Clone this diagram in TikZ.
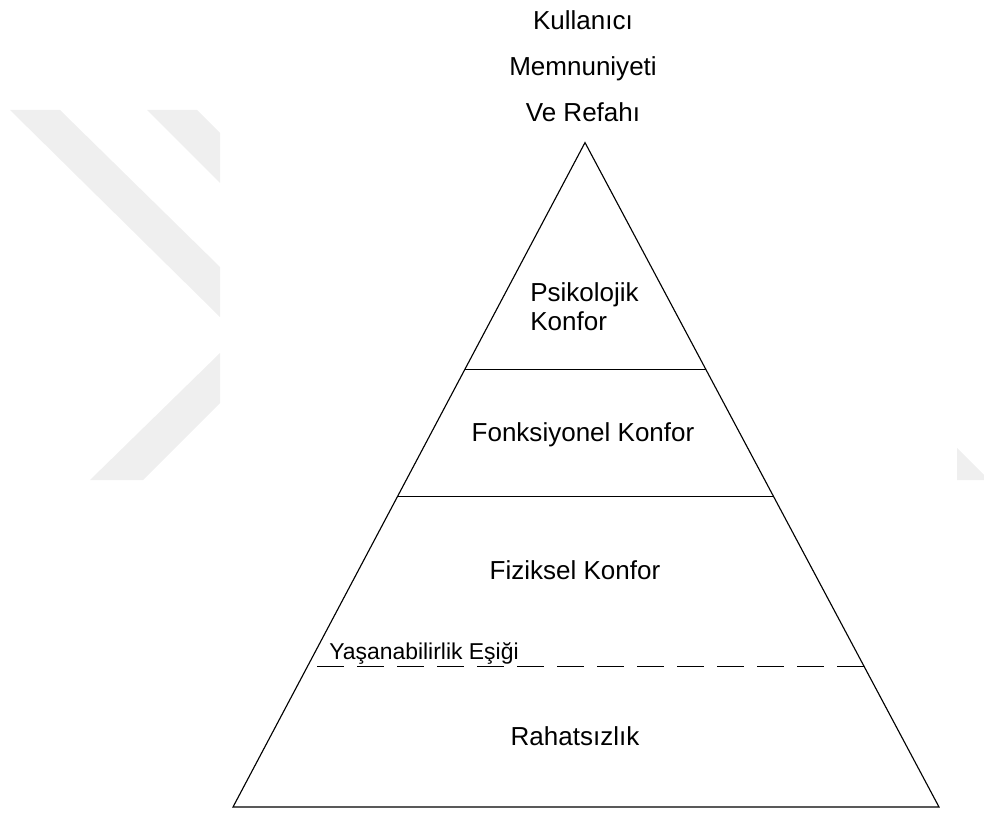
\documentclass[tikz,border=0pt]{standalone}
\usepackage{fontspec}
\setmainfont{Liberation Sans}
\usetikzlibrary{calc,positioning}
\definecolor{wmgray}{HTML}{EFEFEF}

\begin{document}
\begin{tikzpicture}[x=0.025cm,y=-0.025cm,
  lbl/.style={font=\fontsize{18.5}{22}\selectfont, inner sep=0pt, anchor=base},
  smalllbl/.style={font=\fontsize{16.3}{20}\selectfont, inner sep=0pt, anchor=base west},
  edge/.style={draw=black, line width=0.8pt}]
\useasboundingbox (0,0) rectangle (984,813);
% watermark
\fill[wmgray] (10,110) -- (60,110) -- (220,267) -- (220,317) -- cycle;
\fill[wmgray] (220,353) -- (220,403) -- (143,480) -- (90,480) -- cycle;
\fill[wmgray] (147,110) -- (197,110) -- (220,133) -- (220,183) -- cycle;
\fill[wmgray] (957,448) -- (984,475) -- (984,480) -- (957,480) -- cycle;

% pyramid
\coordinate (apex) at (585,142.6);
\coordinate (bl) at (233,807);
\coordinate (br) at (939,807);
\coordinate (psyl) at ($(apex)!0.342!(bl)$);
\coordinate (psyr) at ($(apex)!0.342!(br)$);
\coordinate (funl) at ($(apex)!0.532!(bl)$);
\coordinate (funr) at ($(apex)!0.532!(br)$);
\coordinate (esikl) at ($(apex)!0.788!(bl)$);
\coordinate (esikr) at ($(apex)!0.788!(br)$);
\draw[edge] (apex) -- (bl) -- (br) -- cycle;
\draw[edge] (psyl) -- (psyr);
\draw[edge] (funl) -- (funr);
\draw[edge, dash pattern=on 0.675cm off 0.325cm] (esikr) -- (esikl);

% labels
\node[lbl] (kul) at (583,30) {Kullanıcı};
\node[lbl] (mem) at (583,76) {Memnuniyeti};
\node[lbl] (ref) at (583,122) {Ve Refahı};
\node[lbl, anchor=base west] (psi) at (530,301) {Psikolojik};
\node[lbl, anchor=base west] (psik) at (530,330) {Konfor};
\node[lbl] (fonk) at (583,441) {Fonksiyonel Konfor};
\node[lbl] (fiz) at (575,579) {Fiziksel Konfor};
\node[smalllbl] (esik) at (329,659) {Yaşanabilirlik Eşiği};
\node[lbl] (rah) at (575,745) {Rahatsızlık};
\end{tikzpicture}
\end{document}
